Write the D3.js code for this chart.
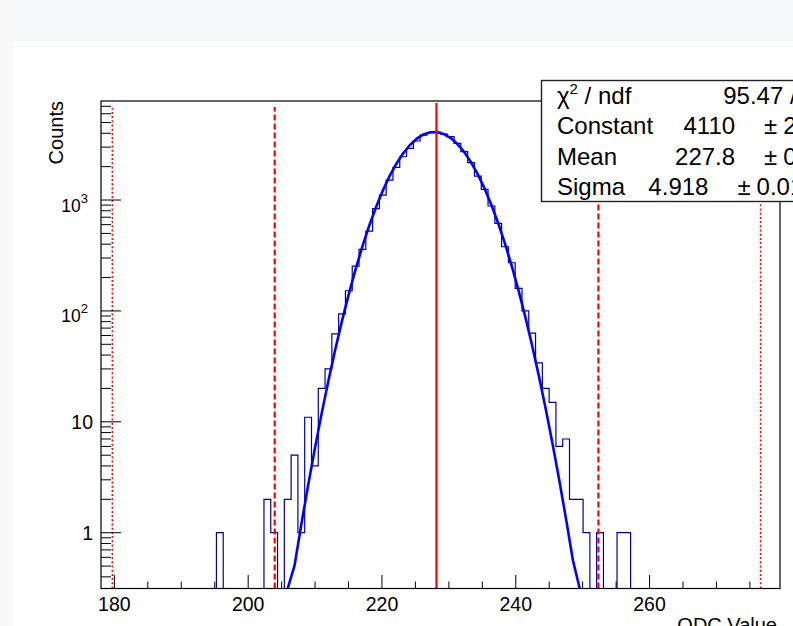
<!DOCTYPE html>
<html lang="en">
<head>
  <meta charset="UTF-8">
  <title>QDC Value</title>
  <style>
    body { margin: 0; background: #fff; overflow: hidden; }
    svg { display: block; font-family: "Liberation Sans", Arial, sans-serif; }
  </style>
</head>
<body>
  <script src="https://d3js.org/d3.v7.min.js"></script>
  <script>
    // histogram: 100 bins from 178 to 279.5
    const histRange = [178, 279.5];
    const binCounts = [
      0, 0, 0, 0, 0, 0, 0, 0, 0, 0,
      0, 0, 0, 0, 0, 0, 0, 1, 0, 0,
      0, 0, 0, 0, 2, 1, 0, 2, 5, 1,
      11, 4, 20, 30, 62, 94, 152, 254, 359, 525,
      835, 1109, 1514, 1972, 2457, 2926, 3405, 3855, 4045, 4105,
      3936, 3723, 3245, 2729, 2170, 1646, 1248, 883, 617, 379,
      272, 160, 100, 63, 34, 20, 15, 6, 7, 2,
      2, 1, 0, 1, 0, 0, 1, 1, 0, 0,
      0, 0, 0, 0, 0, 0, 0, 0, 0, 0,
      0, 0, 0, 0, 0, 0, 0, 0, 0, 0
    ];
    // gaus fit: constant, mean, sigma
    const fitParams = [4110, 227.8, 4.918];
    const yRange = [0.314, 7816];

    const xTicks = [180, 200, 220, 240, 260];
    const yTicks = [1, 10, 100, 1000];
    const yTickBase = ['1', '10', '10', '10'];
    const yTickExp = ['', '', '2', '3'];

    // red marker lines: mean, +-5 sigma, +-10 sigma
    const markerX = [228.15, 203.97, 252.36, 179.7, 276.6];
    const markerTop = [7500, 6900, 6900, 6900, 6900];
    const markerStyle = ['solid', 'dashed', 'dashed', 'dotted', 'dotted'];

    const statNames = ['χ', 'Constant', 'Mean', 'Sigma'];
    const statValues = ['95.47 / 56', '4110 ± 22.6', '227.8 ± 0.02', '4.918 ± 0.0157'];

    function histChart(){
      const _chart = {};
      const _width = 793, _height = 626;
      const _frame = {left: 101, right: 780, top: 101, bottom: 588.5};
      let _svg, _x, _y;

      _chart.render = function(){
        _svg = d3.select('body').append('svg')
          .attr('width', _width)
          .attr('height', _height);
        _x = d3.scaleLinear().domain(histRange).range([_frame.left, _frame.right]);
        _y = d3.scaleLog().domain(yRange).range([_frame.bottom, _frame.top]);
        renderBackground();
        renderHist();
        renderFit();
        renderMarkers();
        renderAxes();
        renderStats();
      };

      function renderBackground(){
        _svg.append('rect').attr('width', _width).attr('height', _height).attr('fill', '#fff');
        _svg.append('rect').attr('width', 13).attr('height', _height).attr('fill', '#f9f9f9');
        _svg.append('rect').attr('x', 13).attr('width', _width - 13).attr('height', 41).attr('fill', '#f7f8fc');
        _svg.append('clipPath').attr('id', 'frameClip')
          .append('rect')
          .attr('x', _frame.left).attr('y', _frame.top)
          .attr('width', _frame.right - _frame.left)
          .attr('height', _frame.bottom - _frame.top);
      }

      function clampY(v){
        return _y(Math.max(v, yRange[0]));
      }

      function renderHist(){
        const binW = (histRange[1] - histRange[0]) / binCounts.length;
        const pts = [[_x(histRange[0]), clampY(0)]];
        binCounts.forEach((c, i) => {
          pts.push([_x(histRange[0] + i * binW), clampY(c)]);
          pts.push([_x(histRange[0] + (i + 1) * binW), clampY(c)]);
        });
        pts.push([_x(histRange[1]), clampY(0)]);
        _svg.append('path')
          .attr('clip-path', 'url(#frameClip)')
          .attr('d', d3.line()(pts))
          .attr('fill', 'none')
          .attr('stroke', '#000099')
          .attr('stroke-width', 1.2);
      }

      function gaus(v){
        const [c, m, s] = fitParams;
        return c * Math.exp(-0.5 * Math.pow((v - m) / s, 2));
      }

      function renderFit(){
        const binW = (histRange[1] - histRange[0]) / binCounts.length;
        const centers = d3.range(binCounts.length).map(i => histRange[0] + (i + 0.5) * binW);
        const vals = centers.map(gaus);
        const ok = vals.map(v => v >= yRange[0]);
        const pts = [];
        centers.forEach((c, i) => {
          if(ok[i] || ok[i - 1] || ok[i + 1]) pts.push([_x(c), clampY(vals[i])]);
        });
        _svg.append('path')
          .attr('clip-path', 'url(#frameClip)')
          .attr('d', d3.line()(pts))
          .attr('fill', 'none')
          .attr('stroke', '#0000ff')
          .attr('stroke-width', 2.6)
          .attr('stroke-linejoin', 'round');
      }

      function renderMarkers(){
        const dash = {solid: null, dashed: '6,3', dotted: '2,2.2'};
        const widths = {solid: 2.2, dashed: 2.2, dotted: 1.6};
        _svg.append('g').attr('class', 'markers')
          .selectAll('line').data(markerX).enter().append('line')
          .attr('x1', d => _x(d)).attr('x2', d => _x(d))
          .attr('y1', _frame.bottom)
          .attr('y2', (d, i) => _y(markerTop[i]))
          .attr('stroke', '#ff0000')
          .attr('stroke-width', (d, i) => widths[markerStyle[i]])
          .attr('stroke-dasharray', (d, i) => dash[markerStyle[i]]);
      }

      function renderAxes(){
        const g = _svg.append('g').attr('class', 'axes');
        // x ticks, every 5, long ones on labels
        const xt = d3.range(180, histRange[1], 5);
        g.selectAll('line.xtick').data(xt).enter().append('line')
          .attr('class', 'xtick')
          .attr('x1', d => _x(d)).attr('x2', d => _x(d))
          .attr('y1', _frame.bottom)
          .attr('y2', d => _frame.bottom - (xTicks.includes(d) ? 13.5 : 7))
          .attr('stroke', '#000').attr('stroke-width', 1);
        g.selectAll('text.xlabel').data(xTicks).enter().append('text')
          .attr('class', 'xlabel')
          .attr('x', d => _x(d)).attr('y', 611)
          .attr('text-anchor', 'middle')
          .attr('font-size', 19.5)
          .text(d => d);

        // y ticks, log decades
        const yt = [];
        for(let e = -1; e <= 3; e++){
          for(let m = 1; m <= 9; m++){
            const v = m * Math.pow(10, e);
            if(v >= yRange[0] && v <= yRange[1]) yt.push({v: v, major: m === 1});
          }
        }
        g.selectAll('line.ytick').data(yt).enter().append('line')
          .attr('class', 'ytick')
          .attr('x1', _frame.left)
          .attr('x2', d => _frame.left + (d.major ? 20 : 10))
          .attr('y1', d => _y(d.v)).attr('y2', d => _y(d.v))
          .attr('stroke', '#000').attr('stroke-width', 1);

        const yl = g.selectAll('text.ylabel').data(yTicks).enter().append('text')
          .attr('class', 'ylabel')
          .attr('x', (d, i) => yTickExp[i] ? 88 : 93)
          .attr('y', (d, i) => _y(d) + (yTickExp[i] ? 11.5 : 7.5))
          .attr('text-anchor', 'end');
        yl.append('tspan')
          .attr('font-size', (d, i) => yTickExp[i] ? 17.5 : 19.5)
          .text((d, i) => yTickBase[i]);
        yl.filter((d, i) => yTickExp[i]).append('tspan')
          .attr('font-size', 13)
          .attr('dy', -9)
          .text(d => yTickExp[yTicks.indexOf(d)]);

        // frame
        g.append('rect')
          .attr('x', _frame.left).attr('y', _frame.top)
          .attr('width', _frame.right - _frame.left)
          .attr('height', _frame.bottom - _frame.top)
          .attr('fill', 'none').attr('stroke', '#000').attr('stroke-width', 1.2);

        // titles
        _svg.append('text')
          .attr('transform', `translate(62.5,${_frame.top}) rotate(-90)`)
          .attr('text-anchor', 'end')
          .attr('font-size', 20)
          .text('Counts');
        _svg.append('text')
          .attr('x', 777).attr('y', 632)
          .attr('text-anchor', 'end')
          .attr('font-size', 20)
          .text('QDC Value');
      }

      function renderStats(){
        const box = {x: 541.5, y: 80.5, w: 320, h: 121};
        const g = _svg.append('g').attr('class', 'stats');
        g.append('rect')
          .attr('x', box.x).attr('y', box.y)
          .attr('width', box.w).attr('height', box.h)
          .attr('fill', '#fff').attr('stroke', '#222').attr('stroke-width', 1.4);
        const rowH = box.h / statNames.length;
        const names = g.selectAll('text.sname').data(statNames).enter().append('text')
          .attr('class', 'sname')
          .attr('x', 557)
          .attr('y', (d, i) => box.y + rowH * (i + 0.5) + 8.5)
          .attr('font-size', 24);
        names.append('tspan').text(d => d);
        names.filter((d, i) => i === 0).append('tspan')
          .attr('font-size', 15).attr('dy', -10).text('2');
        names.filter((d, i) => i === 0).append('tspan')
          .attr('dy', 10).text(' / ndf');

        // value column, right aligned; "±" gets extra room like TLatex #pm
        const vals = g.selectAll('text.svalue').data(statValues).enter().append('text')
          .attr('class', 'svalue')
          .attr('x', 830)
          .attr('y', (d, i) => box.y + rowH * (i + 0.5) + 8.5)
          .attr('text-anchor', 'end')
          .attr('font-size', 24);
        vals.each(function(d){
          const parts = d.split(' ± ');
          const t = d3.select(this);
          t.append('tspan').text(parts[0]);
          if(parts.length > 1){
            t.append('tspan').attr('dx', 29).text('±');
            t.append('tspan').attr('dx', 6).text(parts[1]);
          }
        });
      }

      return _chart;
    }

    histChart().render();
  </script>
</body>
</html>
